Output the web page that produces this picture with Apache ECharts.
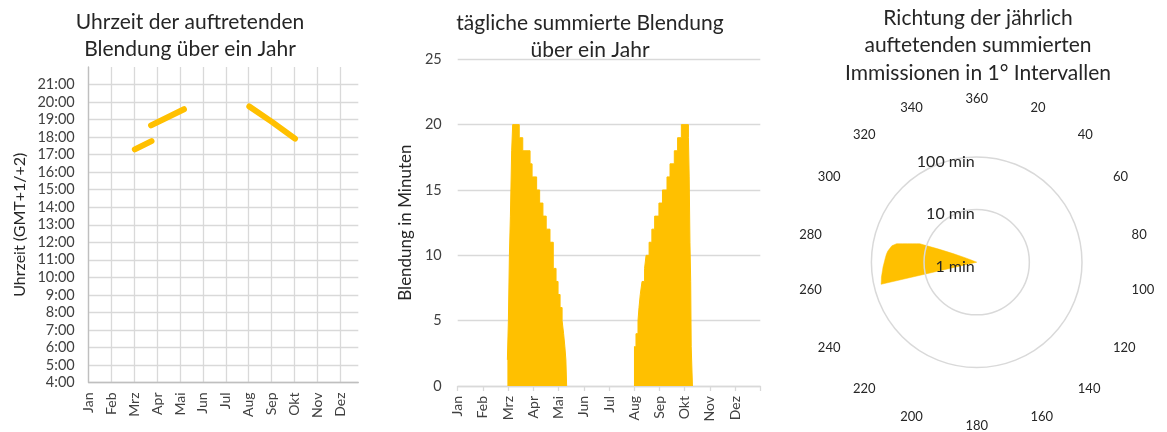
<!DOCTYPE html>
<html>
<head>
<meta charset="utf-8">
<script src="https://cdn.jsdelivr.net/npm/echarts@6/dist/echarts.min.js"></script>
<style>
html, body { margin: 0; padding: 0; background: #fff; }
#chart { width: 1167px; height: 432px; }
</style>
</head>
<body>
<div id="chart"></div>
<script>
const months = ['Jan', 'Feb', 'Mrz', 'Apr', 'Mai', 'Jun', 'Jul', 'Aug', 'Sep', 'Okt', 'Nov', 'Dez'];

// left chart: time of day of glare, [month position, hour]
const glareTimeMarch = [[2.02, 17.30], [2.75, 17.77]];
const glareTimeSpring = [[2.73, 18.67], [4.17, 19.59]];
const glareTimeAutumn = [[7.03, 19.75], [8.02, 18.87], [9.03, 17.91]];

// middle chart: daily summed glare, step points [month position, minutes]
const dailySpring = [
    [1.97, 2], [2.01, 5], [2.05, 10], [2.09, 13], [2.14, 18], [2.18, 20],
    [2.44, 19], [2.58, 18], [2.87, 17], [2.95, 16], [3.13, 15], [3.25, 14],
    [3.38, 13], [3.51, 12], [3.66, 11], [3.79, 9], [3.90, 8], [3.98, 7],
    [4.06, 6], [4.14, 5], [4.20, 4], [4.25, 3], [4.29, 2], [4.32, 0]
];
const dailyAutumn = [
    [6.99, 3], [7.07, 4], [7.15, 5], [7.19, 6], [7.24, 7], [7.31, 8],
    [7.41, 9], [7.47, 10], [7.59, 11], [7.70, 12], [7.81, 13], [7.98, 14],
    [8.12, 15], [8.30, 16], [8.42, 17], [8.59, 18], [8.72, 19], [8.87, 20],
    [9.15, 19], [9.18, 16], [9.21, 11], [9.24, 8], [9.26, 3], [9.31, 0]
];

// right chart: yearly summed glare per 1° direction
const dirAngles = [256, 257, 258, 259, 260, 261, 262, 263, 264, 265, 266, 267, 268, 269, 270,
    271, 272, 273, 274, 275, 276, 277, 278, 279, 280, 281, 282, 283, 284, 285, 286, 287, 288,
    289, 290, 291, 292, 293];
const dirMinutes = [1, 73, 71.6, 70, 69, 68, 66.5, 65, 63.5, 62.5, 61.5, 60.5, 59, 58, 57,
    56, 55, 54.4, 53.5, 52.7, 52, 50.5, 48.8, 47, 45.2, 43.7, 42.2, 36.4, 28.4, 22.9, 18.8, 15.9, 13.7,
    5.8, 3, 1.85, 1.3, 1];

const FONT = 'Lato';
const TXT = '#404040';
const GRID = '#d9d9d9';
const GOLD = '#FFC000';

const chart = echarts.init(document.getElementById('chart'), null, {renderer: 'canvas'});

function titleText(x, y, text) {
    return {
        type: 'text', x: x, y: y,
        style: {text: text, fill: '#262626', font: '21px ' + FONT, align: 'center', verticalAlign: 'middle', lineHeight: 27.5}
    };
}

const option = {
    animation: false,
    backgroundColor: '#fff',
    textStyle: {fontFamily: FONT},
    graphic: [
        titleText(190, 35.5, 'Uhrzeit der auftretenden\nBlendung über ein Jahr'),
        titleText(590, 36.5, 'tägliche summierte Blendung\nüber ein Jahr'),
        titleText(978, 45.5, 'Richtung der jährlich\nauftetenden summierten\nImmissionen in 1° Intervallen')
    ],
    grid: [
        {left: 88.7, top: 67, width: 269.6, height: 315.5},
        {left: 457.7, top: 59.3, width: 302.6, height: 326.7}
    ],
    xAxis: [{
        gridIndex: 0, type: 'value', min: 0, max: 11.8, interval: 1,
        axisLine: {show: true, lineStyle: {color: '#bfbfbf', width: 1.3}},
        axisTick: {show: false},
        splitLine: {show: true, showMaxLine: false, lineStyle: {color: GRID, width: 1.3}},
        axisLabel: {
            rotate: 90, margin: 10, color: TXT, fontSize: 14, showMaxLabel: false,
            formatter: v => Number.isInteger(v) ? months[v] : ''
        }
    }, {
        gridIndex: 1, type: 'value', min: 0, max: 12, interval: 1,
        axisLine: {show: true, lineStyle: {color: GRID, width: 1.3}},
        axisTick: {show: true, length: 5, lineStyle: {color: GRID, width: 1.3}},
        splitLine: {show: false},
        axisLabel: {
            rotate: 90, margin: 10, color: TXT, fontSize: 14,
            formatter: v => months[v] || ''
        }
    }],
    yAxis: [{
        gridIndex: 0, type: 'value', min: 4, max: 22, interval: 1,
        name: 'Uhrzeit (GMT+1/+2)', nameLocation: 'middle', nameGap: 61,
        nameTextStyle: {color: '#262626', fontSize: 16},
        axisLine: {show: true, lineStyle: {color: '#bfbfbf', width: 1.3}},
        axisTick: {show: false},
        splitLine: {show: true, showMaxLine: false, lineStyle: {color: GRID, width: 1.3}},
        axisLabel: {margin: 14, color: TXT, fontSize: 14.5, showMaxLabel: false, formatter: v => v + ':00'}
    }, {
        gridIndex: 1, type: 'value', min: 0, max: 25, interval: 5,
        name: 'Blendung in Minuten', nameLocation: 'middle', nameGap: 44,
        nameTextStyle: {color: '#262626', fontSize: 17},
        axisLine: {show: false},
        axisTick: {show: false},
        splitLine: {show: true, lineStyle: {color: GRID, width: 1.3}},
        axisLabel: {margin: 16, color: TXT, fontSize: 14.5}
    }],
    polar: {center: [976.7, 262.2], radius: 105.3},
    angleAxis: {
        type: 'value', min: 0, max: 360, interval: 20, startAngle: 90, clockwise: true,
        axisLine: {show: false}, axisTick: {show: false}, splitLine: {show: false},
        axisLabel: {margin: 52, color: '#262626', fontSize: 13, formatter: v => v === 0 ? '360' : String(v)}
    },
    radiusAxis: {
        type: 'log', logBase: 10, min: 1, max: 100,
        axisLine: {show: false}, axisTick: {show: false},
        splitLine: {show: true, lineStyle: {color: GRID, width: 1.5}},
        axisLabel: {
            color: '#262626', fontSize: 16, align: 'right', verticalAlign: 'top',
            lineHeight: 9, margin: 2, formatter: v => v + ' min'
        },
        z: 10
    },
    series: [
        {type: 'line', xAxisIndex: 0, yAxisIndex: 0, data: glareTimeMarch, symbol: 'none',
            lineStyle: {width: 6, color: GOLD, cap: 'round'}},
        {type: 'line', xAxisIndex: 0, yAxisIndex: 0, data: glareTimeSpring, symbol: 'none',
            lineStyle: {width: 6, color: GOLD, cap: 'round'}},
        {type: 'line', xAxisIndex: 0, yAxisIndex: 0, data: glareTimeAutumn, symbol: 'none',
            lineStyle: {width: 6, color: GOLD, cap: 'round'}},
        {type: 'line', xAxisIndex: 1, yAxisIndex: 1, data: dailySpring, step: 'end', symbol: 'none',
            lineStyle: {width: 1, color: GOLD}, areaStyle: {color: GOLD, opacity: 1}},
        {type: 'line', xAxisIndex: 1, yAxisIndex: 1, data: dailyAutumn, step: 'end', symbol: 'none',
            lineStyle: {width: 1, color: GOLD}, areaStyle: {color: GOLD, opacity: 1}},
        {type: 'line', coordinateSystem: 'polar', symbol: 'none',
            data: dirAngles.map((a, i) => [dirMinutes[i], a]),
            lineStyle: {width: 0.5, color: GOLD}, areaStyle: {color: GOLD, opacity: 1}}
    ]
};
chart.setOption(option);
</script>
</body>
</html>
